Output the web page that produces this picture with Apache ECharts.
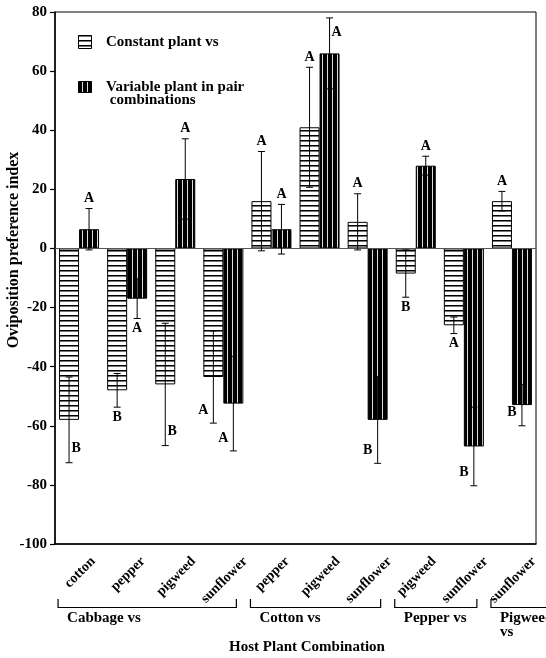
<!DOCTYPE html>
<html>
<head>
<meta charset="utf-8">
<script src="https://cdn.jsdelivr.net/npm/echarts@6/dist/echarts.min.js"></script>
<style>
html,body{margin:0;padding:0;background:#fff;}
#chart{width:546px;height:658px;}
</style>
</head>
<body>
<div id="chart"></div>
<script>
// ---- data ----
const categories = ['cotton','pepper','pigweed','sunflower','pepper','pigweed','sunflower','pigweed','sunflower','sunflower'];
const constantMean = [-58, -48, -46, -43.5, 16, 41, 9, -8.5, -26, 16];
const constantErr  = [14.5, 5.7, 20.7, 15.6, 16.8, 20.3, 9.5, 8, 2.8, 3.3];
const constantLetters = ['B','B','B','A','A','A','A','B','A','A'];
const variableMean = [6.5, -17, 23.5, -52.5, 6.5, 66, -58, 28, -67, -53];
const variableErr  = [7, 6.7, 13.6, 16, 8.4, 12, 14.7, 3.2, 13.3, 7];
const variableLetters = ['A','A','A','A','A','A','B','A','B','B'];
const groupNames = ['Cabbage vs','Cotton vs','Pepper vs','Pigweed\nvs'];
const groupFirst = [0, 4, 7, 9];
const groupLast  = [3, 6, 8, 9];
const seriesNames = ['Constant plant vs', 'Variable plant in pair\n combinations'];
const yTicks = {min: -100, max: 80, interval: 20};

// ---- letter placement (layout, not data) ----
const constantPlace = ['right','end','right','left','end','end','end','end','end','end'];
const variablePlace = ['end','end','end','left','end','right','left','end','left','left'];

const FONT = '"Liberation Serif", "Times New Roman", serif';

function makePattern(kind){
  const c = document.createElement('canvas');
  const g = c.getContext('2d');
  if (kind === 'h') {
    c.width = 4; c.height = 5;
    g.fillStyle = '#fff'; g.fillRect(0,0,4,5);
    g.fillStyle = '#000'; g.fillRect(0,0,4,1);
    g.fillStyle = '#777'; g.fillRect(0,1,4,1);
  } else {
    c.width = 5; c.height = 4;
    g.fillStyle = '#000'; g.fillRect(0,0,5,4);
    g.fillStyle = '#ddd'; g.fillRect(2,0,1,4);
  }
  return {image: c, repeat: 'repeat'};
}
const patH = makePattern('h');
const patV = makePattern('v');

const BAR_W = 20;

function errSeries(means, errs, letters, places, offset){
  return {
    type: 'custom',
    z: 5,
    silent: true,
    data: means.map((m, i) => [i, m, errs[i]]),
    renderItem: function(params, api){
      const i = api.value(0), m = api.value(1), e = api.value(2);
      const x = api.coord([i, 0])[0] + offset;
      const yHi = api.coord([i, m + e])[1];
      const yLo = api.coord([i, m - e])[1];
      const cap = 3.5;
      const endY = m >= 0 ? yHi : yLo;
      const away = m >= 0 ? -1 : 1;
      const place = places[params.dataIndex];
      let tx, ty;
      if (place === 'end') { tx = x; ty = endY + away * 10; }
      else if (place === 'left') { tx = x - 10; ty = endY - away * 13; }
      else { tx = x + 7; ty = endY - away * 14; }
      const ls = {stroke: '#000', lineWidth: 1};
      return {
        type: 'group',
        children: [
          {type: 'line', shape: {x1: x, y1: yHi, x2: x, y2: yLo}, style: ls},
          {type: 'line', shape: {x1: x - cap, y1: yHi, x2: x + cap, y2: yHi}, style: ls},
          {type: 'line', shape: {x1: x - cap, y1: yLo, x2: x + cap, y2: yLo}, style: ls},
          {type: 'text', x: tx, y: ty, style: {text: letters[params.dataIndex], fill: '#000',
            font: 'bold 14px ' + FONT, align: 'center', verticalAlign: 'middle'}}
        ]
      };
    }
  };
}

const chart = echarts.init(document.getElementById('chart'), null, {renderer: 'canvas'});
const option = {
  animation: false,
  backgroundColor: '#fff',
  grid: {left: 55, right: 10, top: 12, bottom: 114, show: true, borderColor: '#000', borderWidth: 1, backgroundColor: 'transparent'},
  xAxis: {
    type: 'category',
    data: categories,
    axisLine: {onZero: false, lineStyle: {color: '#000', width: 1.5}},
    axisTick: {alignWithLabel: true, length: 5, lineStyle: {color: '#000', width: 1.2}},
    axisLabel: {show: false},
    splitLine: {show: false}
  },
  yAxis: {
    type: 'value',
    min: yTicks.min, max: yTicks.max, interval: yTicks.interval,
    axisLine: {show: true, lineStyle: {color: '#000', width: 1.5}},
    axisTick: {show: true, length: 5, lineStyle: {color: '#000', width: 1.2}},
    axisLabel: {color: '#000', fontFamily: FONT, fontWeight: 'bold', fontSize: 15, margin: 8},
    splitLine: {show: false}
  },
  series: [
    {
      name: seriesNames[0], type: 'bar', data: constantMean, barWidth: BAR_W, barGap: '0%',
      itemStyle: {color: patH, borderColor: '#000', borderWidth: 1},
      markLine: {silent: true, symbol: 'none', label: {show: false},
        lineStyle: {color: '#555', width: 1, type: 'solid'}, data: [{yAxis: 0}]}
    },
    {
      name: seriesNames[1], type: 'bar', data: variableMean, barWidth: BAR_W, barGap: '0%',
      itemStyle: {color: patV, borderColor: '#000', borderWidth: 1}
    },
    errSeries(constantMean, constantErr, constantLetters, constantPlace, -BAR_W / 2),
    errSeries(variableMean, variableErr, variableLetters, variablePlace, BAR_W / 2)
  ]
};
chart.setOption(option);

// ---- annotation graphics computed from the axis scale ----
const mctx = document.createElement('canvas').getContext('2d');
function textW(str, font){ mctx.font = font; return mctx.measureText(str).width; }
const axisY = chart.convertToPixel({gridIndex: 0}, [0, yTicks.min])[1];
const catFont = 'bold 14px ' + FONT;
const grpFont = 'bold 15px ' + FONT;
const g = [];
categories.forEach((c, i) => {
  const cx = chart.convertToPixel({gridIndex: 0}, [i, 0])[0];
  const w = textW(c, catFont);
  g.push({type: 'text', x: cx + 1, y: axisY + 12 + (w + 9) * 0.354, rotation: Math.PI / 4,
    style: {text: c, font: catFont, fill: '#000', align: 'center', verticalAlign: 'middle'}, silent: true});
});
groupNames.forEach((name, k) => {
  const x0 = chart.convertToPixel({gridIndex: 0}, [groupFirst[k], 0])[0];
  const x1 = chart.convertToPixel({gridIndex: 0}, [groupLast[k], 0])[0];
  const tl = x0 - 12;
  const tw = Math.max.apply(null, name.split('\n').map(s => textW(s, grpFont)));
  const L = x0 - 21;
  const R = Math.max(x1 + 13, tl + tw + 10);
  const by = axisY + 63.5;
  g.push({type: 'polyline', shape: {points: [[L, by - 8.5], [L, by], [R, by], [R, by - 8.5]]},
    style: {stroke: '#000', lineWidth: 1.2, fill: null}, silent: true});
  g.push({type: 'text', x: tl, y: by + 4, style: {text: name, font: grpFont, fill: '#000',
    align: 'left', verticalAlign: 'top', lineHeight: 13.5}, silent: true});
});
// axis titles
g.push({type: 'text', x: 307, y: 647.5, style: {text: 'Host Plant Combination', font: 'bold 15px ' + FONT,
  fill: '#000', align: 'center', verticalAlign: 'middle'}, silent: true});
g.push({type: 'text', x: 14, y: 250, rotation: Math.PI / 2, style: {text: 'Oviposition preference index',
  font: 'bold 16px ' + FONT, fill: '#000', align: 'center', verticalAlign: 'middle'}, silent: true});
// legend
g.push({type: 'rect', shape: {x: 78.5, y: 35.5, width: 13, height: 13}, style: {fill: patH, stroke: '#000', lineWidth: 1}, silent: true});
g.push({type: 'rect', shape: {x: 78.5, y: 81.5, width: 13, height: 11}, style: {fill: patV, stroke: '#000', lineWidth: 1}, silent: true});
g.push({type: 'text', x: 106, y: 41.7, style: {text: seriesNames[0], font: 'bold 15px ' + FONT, fill: '#000',
  align: 'left', verticalAlign: 'middle'}, silent: true});
g.push({type: 'text', x: 106, y: 80.5, style: {text: seriesNames[1], font: 'bold 15px ' + FONT, fill: '#000',
  align: 'left', verticalAlign: 'top', lineHeight: 13.3}, silent: true});
chart.setOption({graphic: g});
</script>
</body>
</html>
